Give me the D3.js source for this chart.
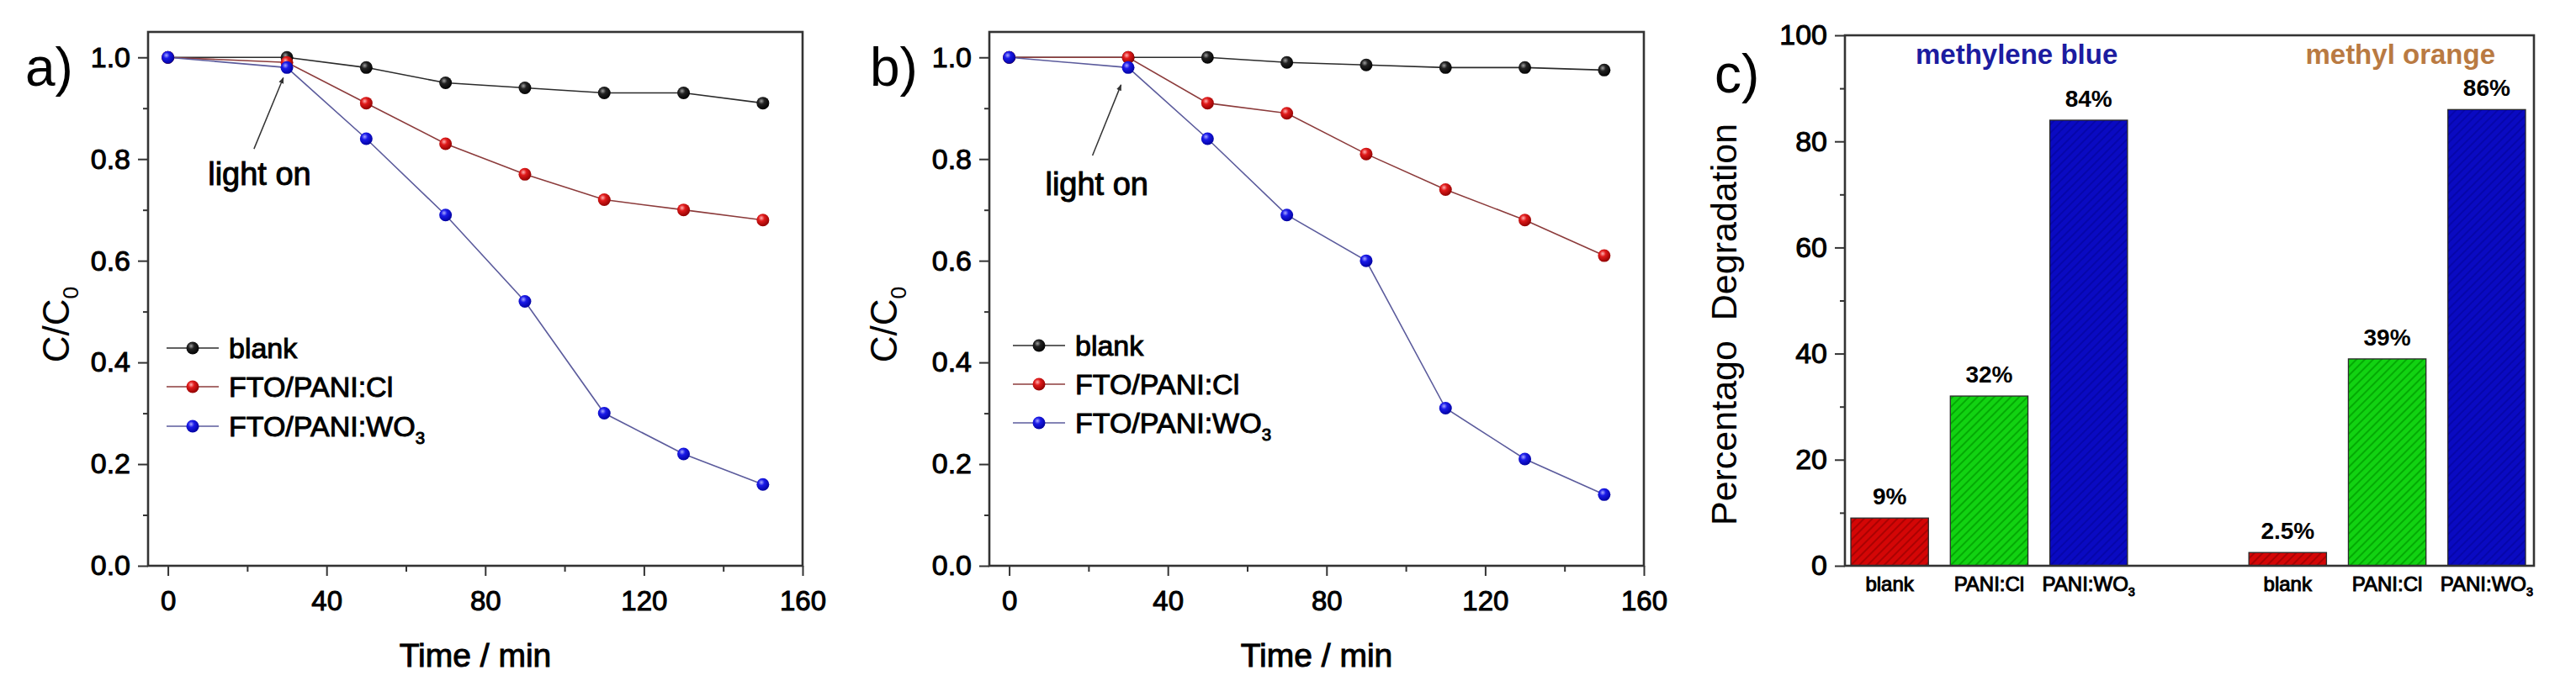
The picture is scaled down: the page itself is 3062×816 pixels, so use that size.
<!DOCTYPE html>
<html>
<head>
<meta charset="utf-8">
<script src="https://cdn.jsdelivr.net/npm/d3@7"></script>
<style>
  body { margin: 0; background: #fff; }
  text { font-family: "Liberation Sans", Arial, sans-serif; fill: #000; }
  .heavy { stroke: #000; stroke-width: 1px; }
</style>
</head>
<body>
<script>
// ---- data ----
const times = [0, 30, 50, 70, 90, 110, 130, 150];
const seriesNames = ['blank', 'FTO/PANI:Cl', 'FTO/PANI:WO3'];

// panel a
const aBlank = [1.0, 1.0, 0.98, 0.95, 0.94, 0.93, 0.93, 0.91];
const aCl    = [1.0, 0.99, 0.91, 0.83, 0.77, 0.72, 0.70, 0.68];
const aWO3   = [1.0, 0.98, 0.84, 0.69, 0.52, 0.30, 0.22, 0.16];

// panel b
const bBlank = [1.0, 1.0, 1.0, 0.99, 0.985, 0.98, 0.98, 0.975];
const bCl    = [1.0, 1.0, 0.91, 0.89, 0.81, 0.74, 0.68, 0.61];
const bWO3   = [1.0, 0.98, 0.84, 0.69, 0.60, 0.31, 0.21, 0.14];

const xTicks = [0, 40, 80, 120, 160];
const xMinor = [20, 60, 100, 140];
const yTicks = [0, 0.2, 0.4, 0.6, 0.8, 1.0];
const yMinor = [0.1, 0.3, 0.5, 0.7, 0.9];

// panel c
const barCats = ['blank', 'PANI:Cl', 'PANI:WO3'];
const dyes = ['methylene blue', 'methyl orange'];
const mbValues = [9, 32, 84];
const moValues = [2.5, 39, 86];
const mbLabels = ['9%', '32%', '84%'];
const moLabels = ['2.5%', '39%', '86%'];
const barTicks = [0, 20, 40, 60, 80, 100];
const barMinor = [10, 30, 50, 70, 90];

// ---- setup ----
const W = 3062, H = 816;
const svg = d3.select('body').append('svg').attr('width', W).attr('height', H);
svg.append('rect').attr('width', W).attr('height', H).attr('fill', '#fff');
const defs = svg.append('defs');

const lineColors = ['#2b2b2b', '#8c3b3b', '#5b5b9c'];
const ballStops = [['#a0a0a0', '#222', '#000'], ['#ffb0b0', '#e01a1a', '#8c0000'], ['#a8a8ff', '#1a1ae8', '#00009c']];
ballStops.forEach((s, i) => {
  const gr = defs.append('radialGradient').attr('id', 'ball' + i)
    .attr('cx', '38%').attr('cy', '34%').attr('r', '70%');
  gr.append('stop').attr('offset', '0%').attr('stop-color', s[0]);
  gr.append('stop').attr('offset', '35%').attr('stop-color', s[1]);
  gr.append('stop').attr('offset', '100%').attr('stop-color', s[2]);
});

defs.append('marker').attr('id', 'arrow')
  .attr('viewBox', '0 0 10 10').attr('refX', 9).attr('refY', 5)
  .attr('markerWidth', 5).attr('markerHeight', 5).attr('orient', 'auto')
  .append('path').attr('d', 'M0,1 L10,5 L0,9 Z').attr('fill', '#333');

// hatched fills for the bars
const barFills = [['#d40606', '#a00000'], ['#12d212', '#00a000'], ['#0a0ac2', '#0404a4']];
barFills.forEach((c, i) => {
  const p = defs.append('pattern').attr('id', 'hatch' + i)
    .attr('patternUnits', 'userSpaceOnUse').attr('width', 7).attr('height', 7)
    .attr('patternTransform', 'rotate(45)');
  p.append('rect').attr('width', 7).attr('height', 7).attr('fill', c[0]);
  p.append('line').attr('x1', 1).attr('y1', 0).attr('x2', 1).attr('y2', 7)
    .attr('stroke', c[1]).attr('stroke-width', 1.6);
});

// writes text, turning a trailing "WO3" / "C0" digit into a subscript
function labelText(sel, s, size) {
  const m = s.match(/^(.*[A-Z])(\d)$/);
  if (!m) { sel.text(s); return; }
  sel.append('tspan').text(m[1]);
  sel.append('tspan').text(m[2]).attr('font-size', size * 0.6).attr('dy', size * 0.25);
}

function styleAxis(g, size) {
  g.select('.domain').remove();
  g.attr('font-size', size).attr('font-family', null);
  g.selectAll('line').attr('stroke', '#333').attr('stroke-width', 2);
  g.selectAll('text').attr('fill', '#000').classed('heavy', true);
}

function linePanel(cfg) {
  const x = d3.scaleLinear().domain([-5, 160]).range([cfg.left, cfg.left + 778]);
  const y = d3.scaleLinear().domain([0, 1.05]).range([673, 38]);
  const g = svg.append('g');

  g.append('g').attr('transform', 'translate(0,673)')
    .call(d3.axisBottom(x).tickValues(xTicks).tickSize(12).tickPadding(18).tickFormat(d3.format('d')))
    .call(a => styleAxis(a, 33));
  g.append('g').attr('transform', 'translate(0,673)')
    .call(d3.axisBottom(x).tickValues(xMinor).tickSize(7).tickFormat(''))
    .call(a => styleAxis(a, 33));
  g.append('g').attr('transform', `translate(${cfg.left},0)`)
    .call(d3.axisLeft(y).tickValues(yTicks).tickSize(12).tickPadding(9).tickFormat(d3.format('.1f')))
    .call(a => styleAxis(a, 34));
  g.append('g').attr('transform', `translate(${cfg.left},0)`)
    .call(d3.axisLeft(y).tickValues(yMinor).tickSize(6).tickFormat(''))
    .call(a => styleAxis(a, 34));

  g.append('rect').attr('x', cfg.left).attr('y', 38).attr('width', 778).attr('height', 635)
    .attr('fill', 'none').attr('stroke', '#333').attr('stroke-width', 2.6);

  const line = d3.line().x(d => x(d[0])).y(d => y(d[1]));
  cfg.series.forEach((vals, i) => {
    const pts = times.map((t, k) => [t, vals[k]]);
    g.append('path').datum(pts).attr('d', line)
      .attr('fill', 'none').attr('stroke', lineColors[i]).attr('stroke-width', 1.6);
  });
  cfg.series.forEach((vals, i) => {
    g.selectAll(null).data(times.map((t, k) => [t, vals[k]])).join('circle')
      .attr('cx', d => x(d[0])).attr('cy', d => y(d[1])).attr('r', 7.5)
      .attr('fill', `url(#ball${i})`);
  });

  // legend
  seriesNames.forEach((name, i) => {
    const ly = cfg.legendY[i];
    g.append('line').attr('x1', cfg.legendX).attr('x2', cfg.legendX + 62)
      .attr('y1', ly).attr('y2', ly).attr('stroke', lineColors[i]).attr('stroke-width', 1.6);
    g.append('circle').attr('cx', cfg.legendX + 31).attr('cy', ly).attr('r', 7.5)
      .attr('fill', `url(#ball${i})`);
    g.append('text').attr('x', cfg.legendX + 74).attr('y', ly).attr('dy', '0.36em')
      .attr('font-size', 34).classed('heavy', true)
      .call(t => labelText(t, name, 34));
  });

  // light on annotation
  g.append('line')
    .attr('x1', x(cfg.arrow[0])).attr('y1', y(cfg.arrow[1]))
    .attr('x2', x(cfg.arrow[2])).attr('y2', y(cfg.arrow[3]))
    .attr('stroke', '#333').attr('stroke-width', 1.5).attr('marker-end', 'url(#arrow)');
  g.append('text').attr('x', x(cfg.note[0])).attr('y', y(cfg.note[1]))
    .attr('font-size', 38).classed('heavy', true).text('light on');

  g.append('text').attr('x', (cfg.left * 2 + 778) / 2).attr('y', 793)
    .attr('text-anchor', 'middle').attr('font-size', 39).classed('heavy', true)
    .text('Time / min');
  g.append('text').attr('transform', `translate(${cfg.yLabelX},386) rotate(-90)`)
    .attr('text-anchor', 'middle').attr('font-size', 44)
    .call(t => labelText(t, 'C/C0', 44));
  g.append('text').attr('x', cfg.tagX).attr('y', 102).attr('font-size', 64).text(cfg.tag);
}

linePanel({
  left: 176, series: [aBlank, aCl, aWO3], tag: 'a)', tagX: 30, yLabelX: 82,
  legendX: 198, legendY: [414, 460, 507],
  arrow: [21.7, 0.82, 29.1, 0.96], note: [10.1, 0.749]
});
linePanel({
  left: 1176, series: [bBlank, bCl, bWO3], tag: 'b)', tagX: 1034, yLabelX: 1066,
  legendX: 1204, legendY: [411, 457, 503],
  arrow: [21.0, 0.807, 28.2, 0.946], note: [9.1, 0.729]
});

// ---- panel c: bars ----
(function barPanel() {
  const left = 2193, right = 3012, top = 42, bottom = 673;
  const keys = [];
  const bars = [];
  dyes.forEach((dye, i) => {
    barCats.forEach((c, j) => {
      const key = i + '|' + c;
      bars.push({ key, cat: c, value: i ? moValues[j] : mbValues[j], label: i ? moLabels[j] : mbLabels[j], j });
    });
    if (i === 0) {
      barCats.forEach(c => keys.push('0|' + c));
      keys.push('gap');
    } else {
      barCats.forEach(c => keys.push('1|' + c));
    }
  });

  const x = d3.scaleBand().domain(keys).range([2200, 3002]).paddingInner(0.22).paddingOuter(0);
  const y = d3.scaleLinear().domain([0, 100]).range([bottom, top]);
  const g = svg.append('g');

  g.append('g').attr('transform', `translate(${left},0)`)
    .call(d3.axisLeft(y).tickValues(barTicks).tickSize(12).tickPadding(9))
    .call(a => styleAxis(a, 34));
  g.append('g').attr('transform', `translate(${left},0)`)
    .call(d3.axisLeft(y).tickValues(barMinor).tickSize(6).tickFormat(''))
    .call(a => styleAxis(a, 34));

  g.selectAll('rect.bar').data(bars).join('rect').attr('class', 'bar')
    .attr('x', d => x(d.key)).attr('width', x.bandwidth())
    .attr('y', d => y(d.value)).attr('height', d => y(0) - y(d.value))
    .attr('fill', d => `url(#hatch${d.j})`).attr('stroke', '#2a2a2a').attr('stroke-width', 1.3);

  g.append('rect').attr('x', left).attr('y', top).attr('width', right - left).attr('height', bottom - top)
    .attr('fill', 'none').attr('stroke', '#333').attr('stroke-width', 2.6);

  g.selectAll('text.pct').data(bars).join('text').attr('class', 'pct')
    .attr('x', d => x(d.key) + x.bandwidth() / 2).attr('y', d => y(d.value) - 16)
    .attr('text-anchor', 'middle').attr('font-size', 28).attr('font-weight', 'bold')
    .text(d => d.label);

  g.selectAll('text.cat').data(bars).join('text').attr('class', 'cat')
    .attr('x', d => x(d.key) + x.bandwidth() / 2).attr('y', 703)
    .attr('text-anchor', 'middle').attr('font-size', 24).classed('heavy', true)
    .each(function (d) { labelText(d3.select(this), d.cat, 24); });

  g.append('text').attr('x', x('0|blank') + 77).attr('y', 76)
    .attr('font-size', 33).attr('font-weight', 'bold').style('fill', '#1c1ca0')
    .text(dyes[0]);
  g.append('text').attr('x', x('1|PANI:WO3') + x.bandwidth() - 36).attr('y', 76)
    .attr('text-anchor', 'end').attr('font-size', 33).attr('font-weight', 'bold').style('fill', '#b97a42')
    .text(dyes[1]);

  g.append('text').attr('transform', 'translate(2064,386) rotate(-90)')
    .attr('text-anchor', 'middle').attr('font-size', 43)
    .text('Percentago\u00a0\u00a0Degradation');
  g.append('text').attr('x', 2038).attr('y', 110).attr('font-size', 64).text('c)');
})();
</script>
</body>
</html>
